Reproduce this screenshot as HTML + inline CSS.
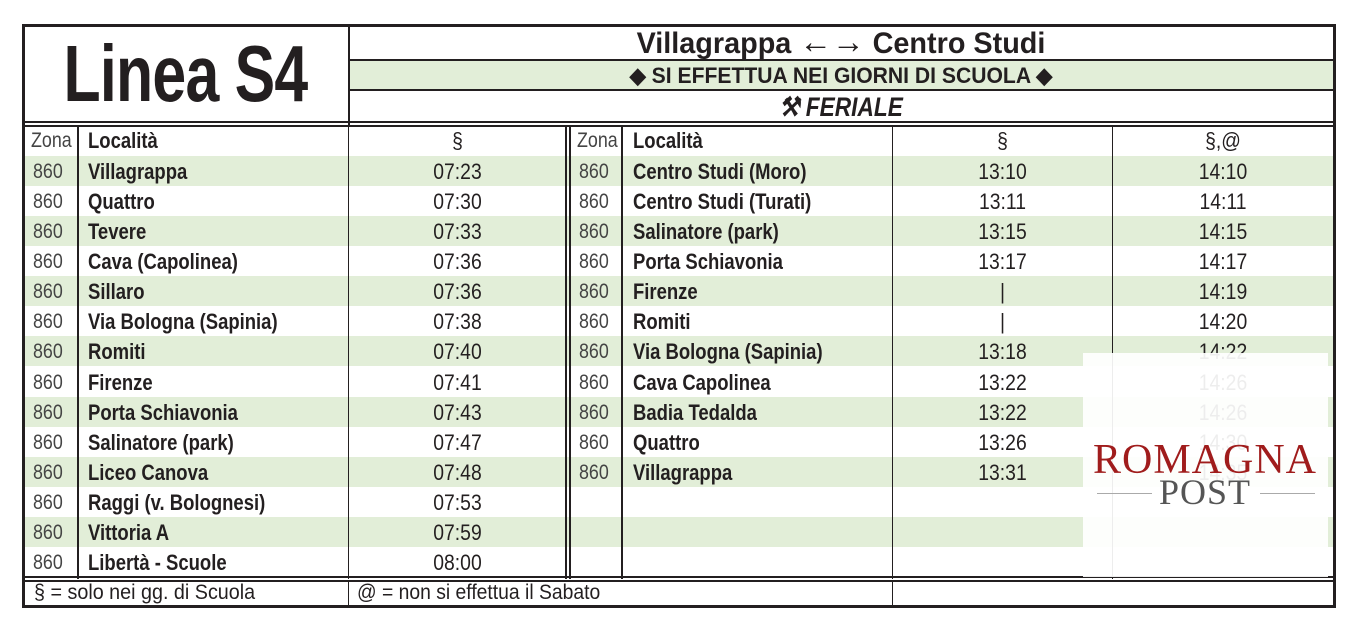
<!DOCTYPE html>
<html><head><meta charset="utf-8"><style>
body{margin:0;width:1356px;height:626px;background:#fff;position:relative;overflow:hidden;font-family:"Liberation Sans",sans-serif;color:#231f20}
div{position:absolute;box-sizing:border-box}
.g{background:#e2eed8}
.hl{height:2px;background:#231f20}
.vl{width:2px;background:#231f20}
.t{font-size:21px;line-height:30px;white-space:nowrap}
.b{font-weight:bold;font-size:22px;transform:scaleX(.84);transform-origin:left}
.c{text-align:center;font-size:22px;transform:scaleX(.88);transform-origin:center}
.z{font-size:21px;color:#444;transform:scaleX(.85);transform-origin:left}
</style></head><body>
<div class="g" style="left:349px;top:61px;width:984px;height:29px"></div>
<div id="rows"></div>
<script>
var L=["Villagrappa","Quattro","Tevere","Cava (Capolinea)","Sillaro","Via Bologna (Sapinia)","Romiti","Firenze","Porta Schiavonia","Salinatore (park)","Liceo Canova","Raggi (v. Bolognesi)","Vittoria A","Libertà - Scuole"];
var T=["07:23","07:30","07:33","07:36","07:36","07:38","07:40","07:41","07:43","07:47","07:48","07:53","07:59","08:00"];
var R=["Centro Studi (Moro)","Centro Studi (Turati)","Salinatore (park)","Porta Schiavonia","Firenze","Romiti","Via Bologna (Sapinia)","Cava Capolinea","Badia Tedalda","Quattro","Villagrappa"];
var A=["13:10","13:11","13:15","13:17","|","|","13:18","13:22","13:22","13:26","13:31"];
var B=["14:10","14:11","14:15","14:17","14:19","14:20","14:22","14:26","14:26","14:30","14:35"];
var h="";
for(var i=0;i<14;i++){var y=156+30.08*i;var ty=y+1;
if(i%2==0)h+='<div class="g" style="left:24px;top:'+y+'px;width:1309px;height:30px"></div>';
h+='<div class="t z" style="left:33px;top:'+ty+'px">860</div>';
h+='<div class="t b" style="left:88px;top:'+ty+'px">'+L[i]+'</div>';
h+='<div class="t c" style="left:349px;width:217px;top:'+ty+'px">'+T[i]+'</div>';
if(i<11){h+='<div class="t z" style="left:579px;top:'+ty+'px">860</div>';
h+='<div class="t b" style="left:633px;top:'+ty+'px">'+R[i]+'</div>';
h+='<div class="t c" style="left:892px;width:221px;top:'+ty+'px">'+A[i]+'</div>';
h+='<div class="t c" style="left:1113px;width:220px;top:'+ty+'px">'+B[i]+'</div>';}
}
document.getElementById("rows").innerHTML=h;
</script>
<div style="left:22px;top:24px;width:327px;height:99px;text-align:center;font-weight:bold;font-size:80px;line-height:99px;white-space:nowrap;transform:scaleX(.76);transform-origin:center;letter-spacing:-1px">Linea S4</div>
<div style="left:349px;top:24px;width:984px;text-align:center;font-weight:bold;font-size:30px;line-height:37px;white-space:nowrap;transform:scaleX(.96)">Villagrappa <span style="font-size:34px;font-weight:normal">←→</span> Centro Studi</div>
<div style="left:349px;top:61px;width:984px;text-align:center;font-weight:bold;font-size:22px;line-height:29px;white-space:nowrap;transform:scaleX(.96)">◆ SI EFFETTUA NEI GIORNI DI SCUOLA ◆</div>
<div style="left:349px;top:91px;width:984px;text-align:center;font-weight:bold;font-size:27px;line-height:32px;font-style:italic;white-space:nowrap;transform:scaleX(.84)">⚒ FERIALE</div>
<div class="t z" style="left:31px;top:126px">Zona</div>
<div class="t b" style="left:88px;top:126px">Località</div>
<div class="t c" style="left:349px;width:217px;top:126px">§</div>
<div class="t z" style="left:577px;top:126px">Zona</div>
<div class="t b" style="left:633px;top:126px">Località</div>
<div class="t c" style="left:892px;width:221px;top:126px">§</div>
<div class="t c" style="left:1113px;width:220px;top:126px">§,@</div>
<div class="t" style="left:34px;top:578px;font-size:21px;transform:scaleX(.94);transform-origin:left">§ = solo nei gg. di Scuola</div>
<div class="t" style="left:357px;top:578px;font-size:21px;transform:scaleX(.92);transform-origin:left">@ = non si effettua il Sabato</div>
<div style="left:22px;top:24px;width:1314px;height:584px;border:3px solid #231f20"></div>
<div class="vl" style="left:348px;top:24px;height:101px"></div>
<div class="hl" style="left:348px;top:59px;width:986px"></div>
<div class="hl" style="left:348px;top:89px;width:986px"></div>
<div class="hl" style="left:22px;top:121px;width:1313px"></div>
<div class="hl" style="left:22px;top:125px;width:1313px"></div>
<div class="vl" style="left:77px;top:125px;height:454px"></div>
<div class="vl" style="left:348px;top:125px;height:454px;width:1px"></div>
<div class="vl" style="left:565px;top:125px;height:454px"></div>
<div class="vl" style="left:569px;top:125px;height:454px"></div>
<div class="vl" style="left:621px;top:125px;height:454px"></div>
<div class="vl" style="left:892px;top:125px;height:454px;width:1px"></div>
<div class="vl" style="left:1112px;top:125px;height:454px;width:1px"></div>
<div class="hl" style="left:22px;top:576px;width:1313px"></div>
<div class="hl" style="left:22px;top:580px;width:1313px"></div>
<div class="vl" style="left:348px;top:580px;height:26px;width:1px"></div>
<div class="vl" style="left:892px;top:580px;height:26px;width:1px"></div>
<div style="left:1083px;top:353px;width:245px;height:224px;background:rgba(255,255,255,.92)"></div>
<div style="left:1085px;top:438px;width:240px;text-align:center;font-family:'Liberation Serif',serif;font-size:42px;line-height:44px;color:#a01c1c;letter-spacing:1px">ROMAGNA</div>
<div style="left:1085px;top:474px;width:240px;text-align:center;font-family:'Liberation Serif',serif;font-size:36px;line-height:36px;color:#555;letter-spacing:1px">POST</div>
<div style="left:1097px;top:493px;width:55px;height:1px;background:#aaa"></div>
<div style="left:1260px;top:493px;width:55px;height:1px;background:#aaa"></div>
</body></html>
